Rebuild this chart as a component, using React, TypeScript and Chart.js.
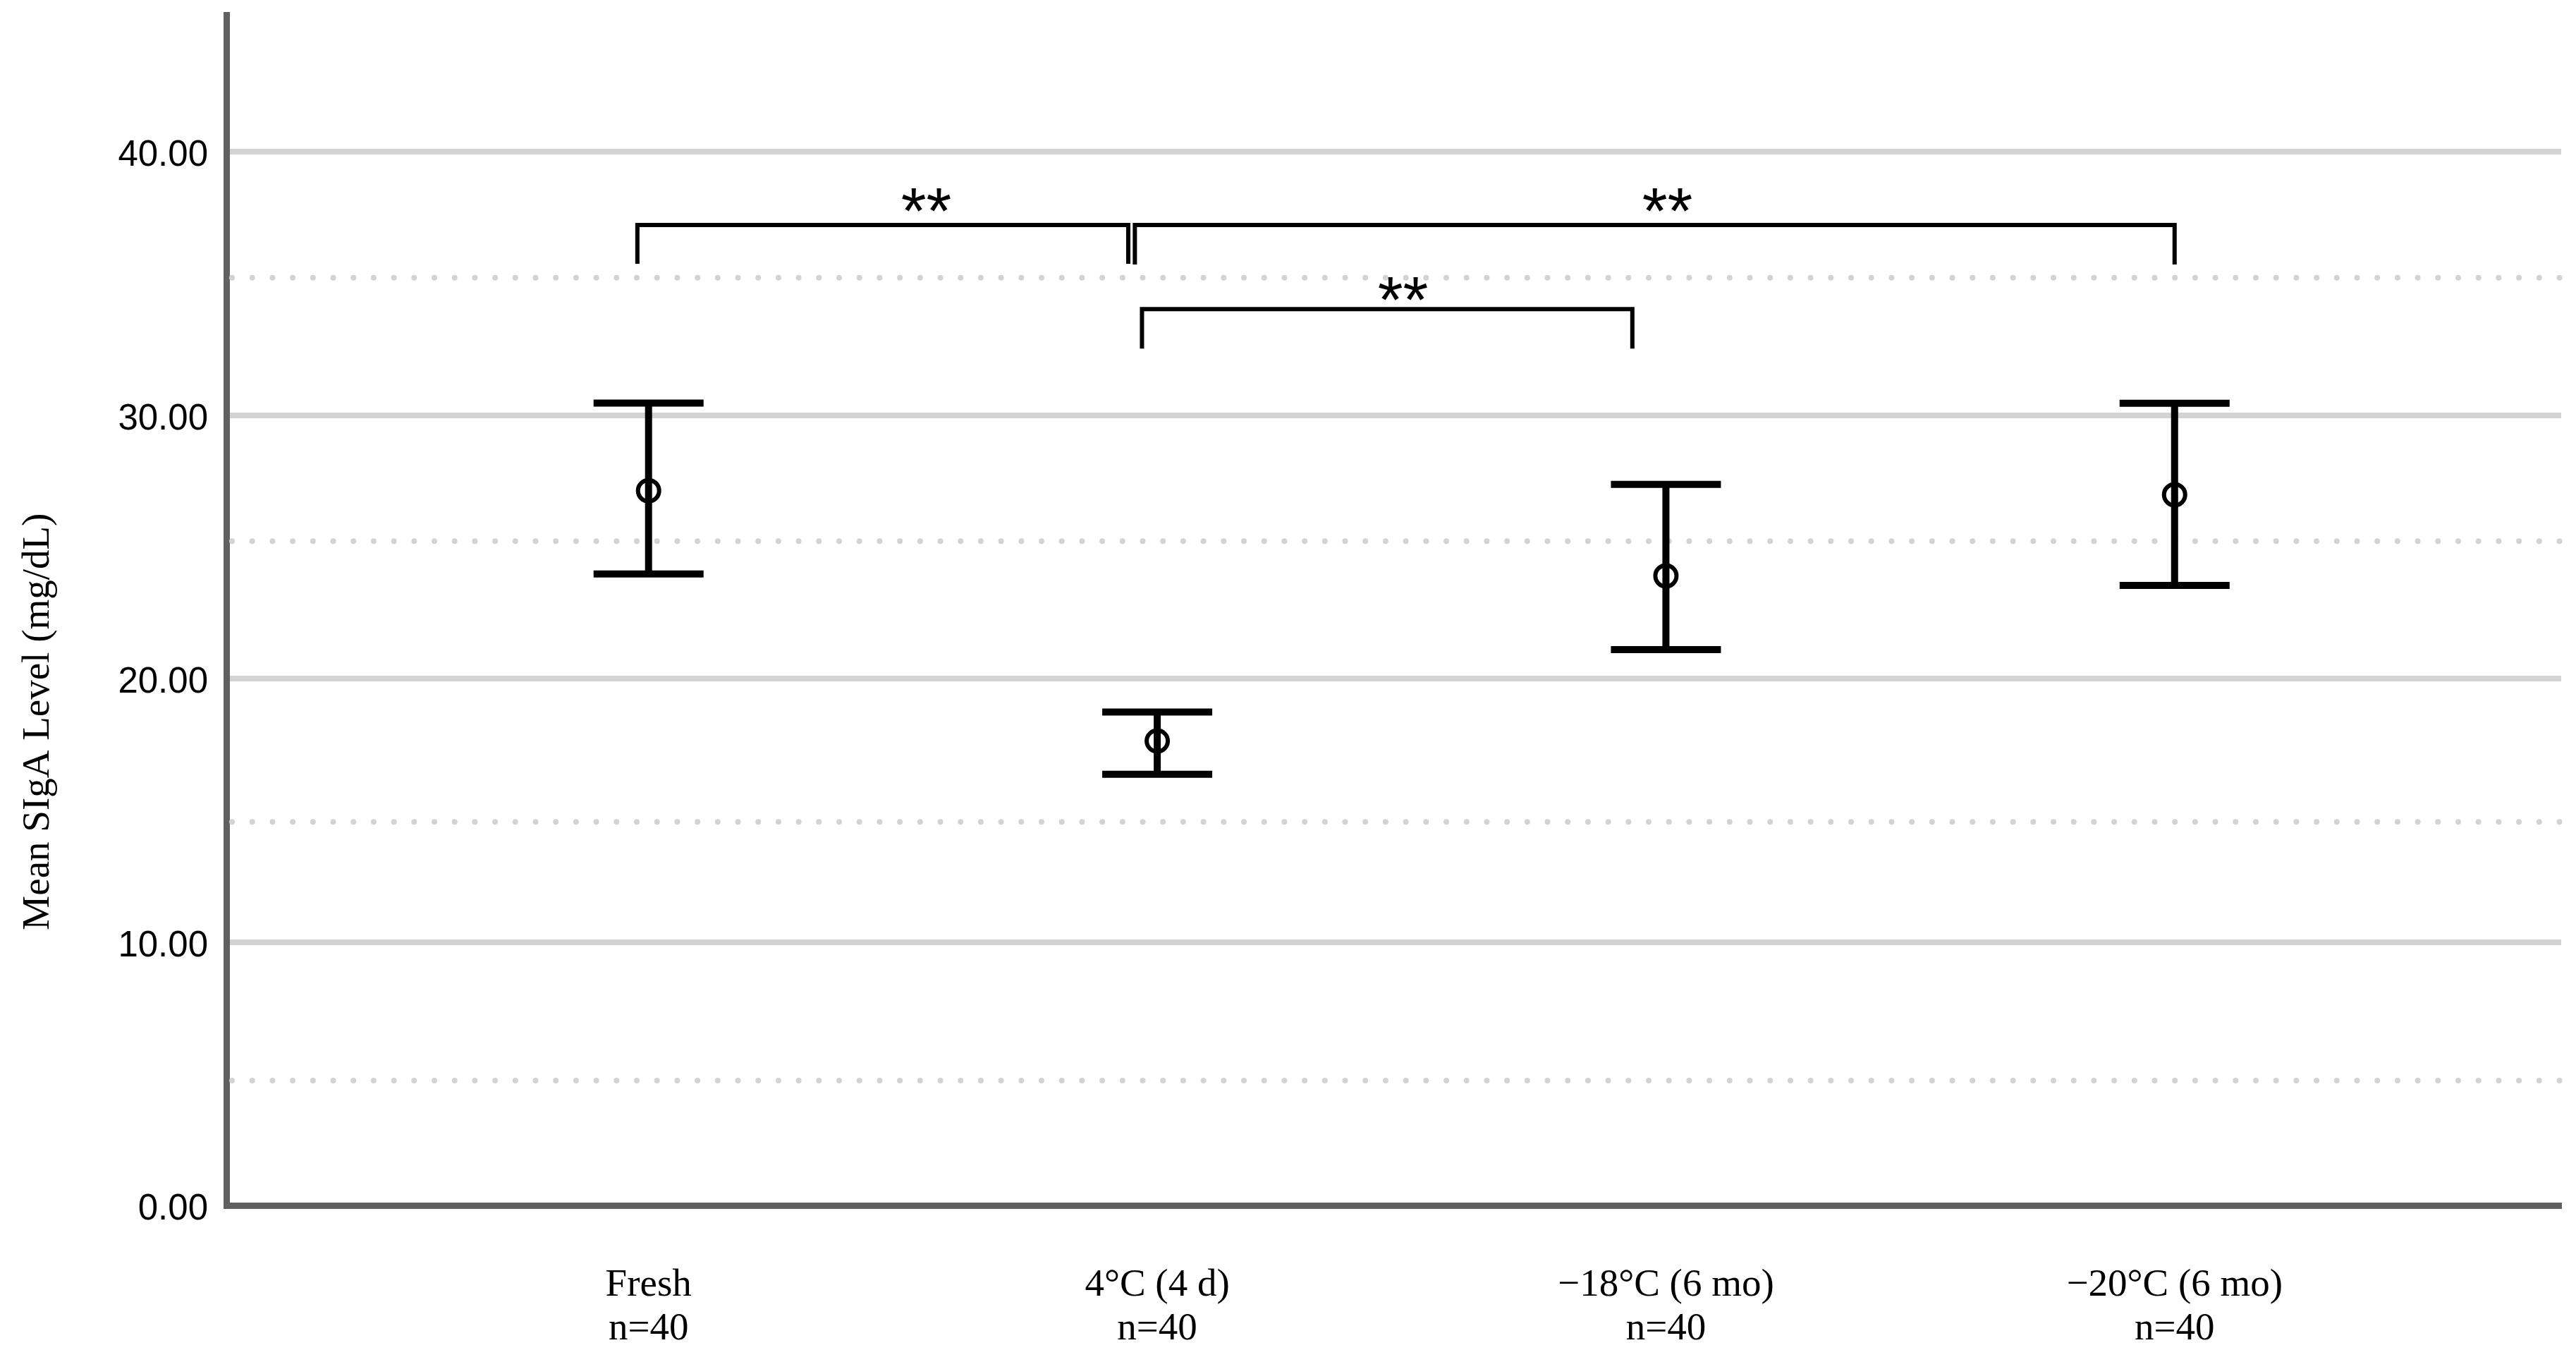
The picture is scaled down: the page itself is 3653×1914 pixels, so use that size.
import React, { useEffect, useRef } from "react";
import { Chart, registerables } from "chart.js";

Chart.register(...registerables);

// ---- data ----
const categories: string[][] = [
  ["Fresh", "n=40"],
  ["4°C (4 d)", "n=40"],
  ["−18°C (6 mo)", "n=40"],
  ["−20°C (6 mo)", "n=40"],
];
const meanValues = [27.13, 17.63, 23.9, 26.98];
const upperValues = [30.46, 18.73, 27.37, 30.45];
const lowerValues = [23.97, 16.37, 21.1, 23.54];
const yTickValues = [0, 10, 20, 30, 40];
const dottedRefValues = [35.22, 25.22, 14.56, 4.74];

// significance brackets (x in category units, y in mg/dL)
const bracketFrom = [-0.022, 0.956, 0.97];
const bracketTo = [0.943, 3.0, 1.934];
const bracketTop = [37.22, 37.22, 34.03];
const bracketLegEnd = [35.75, 35.72, 32.53];
const starLabels = ["**", "**", "**"];
const starX = [0.546, 2.003, 1.483];
const starY = [38.31, 38.31, 34.93];

const yTitle = "Mean SIgA Level (mg/dL)";

const refLinesPlugin = {
  id: "refLines",
  beforeDatasetsDraw(chart: any) {
    const { ctx, chartArea, scales } = chart;
    const y = scales.y;
    ctx.save();
    ctx.strokeStyle = "#d3d3d3";
    ctx.lineWidth = 8;
    ctx.lineCap = "round";
    ctx.setLineDash([0, 28.7]);
    dottedRefValues.forEach((v) => {
      const py = y.getPixelForValue(v);
      ctx.beginPath();
      ctx.moveTo(chartArea.left + 8, py);
      ctx.lineTo(chartArea.right, py);
      ctx.stroke();
    });
    ctx.restore();

    // error bars
    const x = scales.x;
    ctx.save();
    ctx.strokeStyle = "#000";
    ctx.lineWidth = 10;
    ctx.lineCap = "butt";
    const capHalf = 78;
    meanValues.forEach((_, i) => {
      const px = x.getPixelForValue(i);
      const pu = y.getPixelForValue(upperValues[i]);
      const pl = y.getPixelForValue(lowerValues[i]);
      ctx.beginPath();
      ctx.moveTo(px, pu);
      ctx.lineTo(px, pl);
      ctx.moveTo(px - capHalf, pu);
      ctx.lineTo(px + capHalf, pu);
      ctx.moveTo(px - capHalf, pl);
      ctx.lineTo(px + capHalf, pl);
      ctx.stroke();
    });
    ctx.restore();
  },
  afterDatasetsDraw(chart: any) {
    const { ctx, scales } = chart;
    const x = scales.x;
    const y = scales.y;
    ctx.save();
    ctx.strokeStyle = "#000";
    ctx.lineWidth = 6;
    ctx.lineCap = "butt";
    ctx.lineJoin = "miter";
    bracketFrom.forEach((_, i) => {
      const x1 = x.getPixelForValue(bracketFrom[i]);
      const x2 = x.getPixelForValue(bracketTo[i]);
      const yt = y.getPixelForValue(bracketTop[i]);
      const yb = y.getPixelForValue(bracketLegEnd[i]);
      ctx.beginPath();
      ctx.moveTo(x1, yb);
      ctx.lineTo(x1, yt);
      ctx.lineTo(x2, yt);
      ctx.lineTo(x2, yb);
      ctx.stroke();
    });
    const size = 92;
    ctx.fillStyle = "#000";
    ctx.font = `${size}px "Liberation Sans", Arial, sans-serif`;
    ctx.textAlign = "center";
    ctx.textBaseline = "alphabetic";
    starLabels.forEach((s, i) => {
      const px = x.getPixelForValue(starX[i]);
      const py = y.getPixelForValue(starY[i]) + 0.573 * size;
      ctx.fillText(s, px, py);
    });
    ctx.restore();
  },
};

export default function App() {
  const canvasRef = useRef<HTMLCanvasElement | null>(null);

  useEffect(() => {
    document.body.style.margin = "0";
    document.body.style.overflow = "hidden";
    const canvas = canvasRef.current;
    if (!canvas) return;

    const chart = new Chart(canvas, {
      type: "scatter",
      data: {
        datasets: [
          {
            label: "Mean",
            data: meanValues.map((v, i) => ({ x: i, y: v })),
            pointStyle: "circle",
            pointRadius: 15,
            pointHoverRadius: 15,
            borderWidth: 6,
            borderColor: "#000",
            backgroundColor: "rgba(0,0,0,0)",
            showLine: false,
          },
        ],
      },
      options: {
        animation: false,
        responsive: false,
        devicePixelRatio: 1,
        layout: { padding: { top: 0, right: 15, left: 0, bottom: 0 } },
        plugins: {
          legend: { display: false },
          tooltip: { enabled: false },
        },
        scales: {
          x: {
            type: "linear",
            min: -0.83,
            max: 3.76,
            afterBuildTicks: (s: any) => {
              s.ticks = categories.map((_, i) => ({ value: i }));
            },
            afterFit: (s: any) => {
              s.height = 205;
            },
            grid: { display: false, drawTicks: false },
            border: { display: true, color: "#606060", width: 9 },
            ticks: {
              autoSkip: false,
              maxRotation: 0,
              minRotation: 0,
              padding: 82,
              color: "#000",
              font: { family: '"Liberation Serif", "Times New Roman", serif', size: 55, lineHeight: 1.13 },
              callback: (v: any) => categories[Math.round(Number(v))] ?? "",
            },
          },
          y: {
            type: "linear",
            min: 0,
            max: 45.2,
            afterBuildTicks: (s: any) => {
              s.ticks = yTickValues.map((v) => ({ value: v }));
            },
            afterFit: (s: any) => {
              s.width = 321;
            },
            grid: {
              color: (c: any) => (c.tick && c.tick.value === 0 ? "rgba(0,0,0,0)" : "#d3d3d3"),
              lineWidth: 8,
              drawTicks: true,
              tickLength: 26,
              tickColor: "rgba(0,0,0,0)",
            },
            border: { display: true, color: "#606060", width: 9 },
            ticks: {
              padding: 0,
              labelOffset: 6,
              color: "#000",
              font: { family: '"Liberation Sans", Arial, sans-serif', size: 51, lineHeight: 0.8 },
              callback: (v: any) => Number(v).toFixed(2),
            },
            title: {
              display: true,
              text: yTitle + " ".repeat(23),
              color: "#000",
              font: { family: '"Liberation Serif", "Times New Roman", serif', size: 55 },
              padding: { top: 22, bottom: 0 },
            },
          },
        },
      },
      plugins: [refLinesPlugin],
    });

    return () => chart.destroy();
  }, []);

  return (
    <div style={{ width: "3653px", height: "1914px", position: "relative" }}>
      <canvas ref={canvasRef} width={3653} height={1914} style={{ display: "block" }} />
    </div>
  );
}
